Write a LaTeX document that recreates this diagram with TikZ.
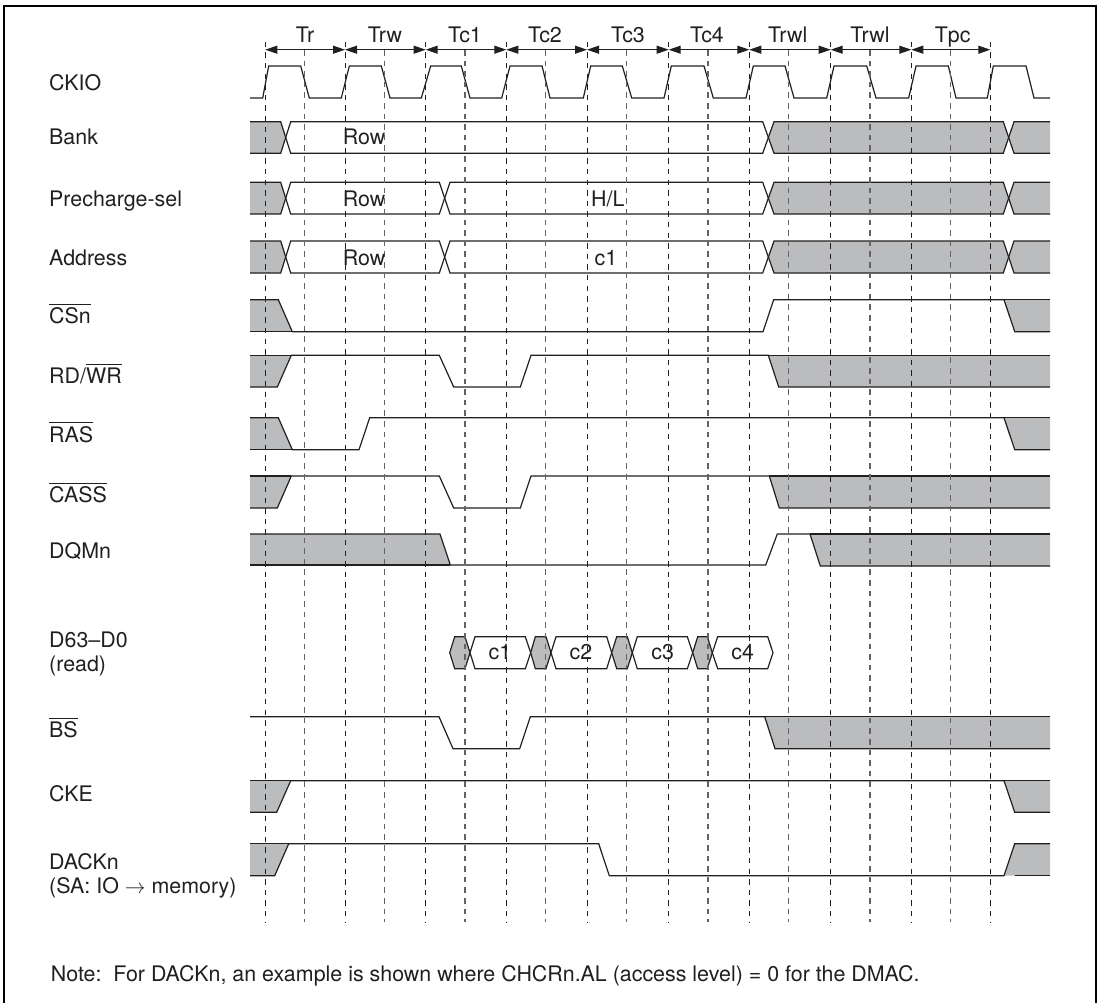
\documentclass[tikz,border=0pt]{standalone}
\usepackage{fontspec}
\setmainfont{TeX Gyre Heros}
\usetikzlibrary{arrows.meta}
\definecolor{ink}{HTML}{231F20}
\definecolor{busgray}{HTML}{BBBCBE}
\newcommand{\ob}[1]{\leavevmode\vbox{\hrule height 0.8pt \kern 3pt \hbox{#1}}}
\tikzset{
  lbl/.style={font=\fontsize{21.4}{24}\selectfont, anchor=base west, inner sep=0pt, text=ink},
  lbltwo/.style={lbl, align=left},
  mid/.style={font=\fontsize{21.4}{24}\selectfont, anchor=base, inner sep=0pt, text=ink},
  sig/.style={draw=ink, line width=1.2pt, line join=miter},
  gfill/.style={fill=busgray, draw=none},
  hexg/.style={fill=busgray, draw=ink, line width=1.2pt},
  hexw/.style={fill=white, draw=ink, line width=1.2pt},
  dashline/.style={draw=ink, line width=0.9pt, dash pattern=on 5.5pt off 5.1pt},
  dashminor/.style={draw=ink!70, line width=1.1pt, dash pattern=on 5.5pt off 5.1pt},
  span/.style={draw=ink, line width=1pt, {Triangle[length=12pt,width=8pt]}-{Triangle[length=12pt,width=8pt]}},
  frameline/.style={draw=black, line width=2pt}
}
\newcommand{\busleft}[3]{\path[gfill] (250,#1)--(280.7,#1)--(285.7,#2)--(280.7,#3)--(250,#3)--cycle;}
\newcommand{\busmid}[3]{\path[gfill] (768.3,#2)--(774,#1)--(1003.3,#1)--(1008.7,#2)--(1003.3,#3)--(774,#3)--cycle;}
\newcommand{\busright}[3]{\path[gfill] (1008.7,#2)--(1014,#1)--(1050,#1)--(1050,#3)--(1014,#3)--cycle;}
\begin{document}
\begin{tikzpicture}[x=1pt,y=-1pt]
\useasboundingbox (0,0) rectangle (1099,1002);
\fill[white] (0,0) rectangle (1099,1002);
\draw[frameline] (4.2,1003) -- (4.2,5.8) -- (1096,5.8) -- (1096,1003);

% gray fills
\busleft{121.7}{137.5}{153.3}\busmid{121.7}{137.5}{153.3}\busright{121.7}{137.5}{153.3}
\busleft{182.3}{198.2}{214}\busmid{182.3}{198.2}{214}\busright{182.3}{198.2}{214}
\busleft{241}{257}{273}\busmid{241}{257}{273}\busright{241}{257}{273}
% CSn
\path[gfill] (250,299.7)--(278.3,299.7)--(292.3,331.7)--(250,331.7)--cycle;
\path[gfill] (1004,299.7)--(1050,299.7)--(1050,331.7)--(1014.7,331.7)--cycle;
% RD/WR
\path[gfill] (250,355.3)--(291.3,355.3)--(277.3,387)--(250,387)--cycle;
\path[gfill] (768.3,355.3)--(1050,355.3)--(1050,387)--(778.7,387)--cycle;
% RAS
\path[gfill] (250,417.7)--(278.3,417.7)--(292.3,449.7)--(250,449.7)--cycle;
\path[gfill] (1004,417.7)--(1050,417.7)--(1050,449.7)--(1014.7,449.7)--cycle;
% CASS
\path[gfill] (250,476)--(291.3,476)--(277.3,508)--(250,508)--cycle;
\path[gfill] (769.3,476)--(1050,476)--(1050,508)--(779.3,508)--cycle;
% DQMn
\path[gfill] (250,534)--(440,534)--(450.3,565)--(250,565)--cycle;
\path[gfill] (810,534)--(1050,534)--(1050,566)--(820.3,566)--cycle;
% BS
\path[gfill] (764.7,716.7)--(1050,716.7)--(1050,748.7)--(775,748.7)--cycle;
% CKE
\path[gfill] (250,780.7)--(290.7,780.7)--(276.7,812.3)--(250,812.3)--cycle;
\path[gfill] (1004,780.7)--(1050,780.7)--(1050,812.3)--(1014.7,812.3)--cycle;
% DACKn
\path[gfill] (250,843.7)--(288.7,843.7)--(274.7,875.7)--(250,875.7)--cycle;
\path[gfill] (1014.7,843.7)--(1050,843.7)--(1050,875.7)--(1004,875.7)--cycle;

% CKIO
\draw[sig] (250,98)--(262.7,98)--(268.7,66)--(300.7,66)--(309.3,98)--(341.3,98)--(349.3,66)--(381.3,66)--(390,98)--(421.3,98)--(430.7,66)--(461.3,66)--(470,98)--(501.7,98)--(510,66)--(542,66)--(550,98)--(583.3,98)--(590.7,66)--(622.3,66)--(631.7,98)--(664,98)--(671.3,66)--(704,66)--(713.3,98)--(746,98)--(753.3,66)--(785,66)--(794,98)--(826.7,98)--(834,66)--(866.7,66)--(876,98)--(908.7,98)--(916,66)--(948.3,66)--(956,98)--(987.3,98)--(993.3,66)--(1026,66)--(1034,98)--(1050,98);
% Bank
\draw[sig] (250,121.7)--(280.7,121.7)--(290.7,153.3)--(762.7,153.3)--(774,121.7)--(1003.3,121.7)--(1014,153.3)--(1050,153.3);
\draw[sig] (250,153.3)--(280.7,153.3)--(290.7,121.7)--(762.7,121.7)--(774,153.3)--(1003.3,153.3)--(1014,121.7)--(1050,121.7);
% Precharge-sel
\draw[sig] (250,182.3)--(280.7,182.3)--(290.7,214)--(439.3,214)--(450,182.3)--(762.7,182.3)--(774,214)--(1003.3,214)--(1014,182.3)--(1050,182.3);
\draw[sig] (250,214)--(280.7,214)--(290.7,182.3)--(439.3,182.3)--(450,214)--(762.7,214)--(774,182.3)--(1003.3,182.3)--(1014,214)--(1050,214);
% Address
\draw[sig] (250,241)--(280.7,241)--(290.7,273)--(439.3,273)--(450,241)--(762.7,241)--(774,273)--(1003.3,273)--(1014,241)--(1050,241);
\draw[sig] (250,273)--(280.7,273)--(290.7,241)--(439.3,241)--(450,273)--(762.7,273)--(774,241)--(1003.3,241)--(1014,273)--(1050,273);
% CSn
\draw[sig] (250,299.7)--(278.3,299.7)--(292.3,331.7)--(763,331.7)--(773.7,299.7)--(1004,299.7)--(1014.7,331.7)--(1050,331.7);
\draw[sig] (250,331.7)--(292.3,331.7);
\draw[sig] (1004,299.7)--(1050,299.7);
% RD/WR
\draw[sig] (250,387)--(277.3,387)--(291.3,355.3)--(439.3,355.3)--(453.7,387)--(520.3,387)--(531,355.3)--(768.3,355.3)--(778.7,387)--(1050,387);
\draw[sig] (250,355.3)--(291.3,355.3);
\draw[sig] (768.3,355.3)--(1050,355.3);
% RAS
\draw[sig] (250,417.7)--(278.3,417.7)--(292.3,449.7)--(359,449.7)--(369.7,417.7)--(1004,417.7)--(1014.7,449.7)--(1050,449.7);
\draw[sig] (250,449.7)--(292.3,449.7);
\draw[sig] (1004,417.7)--(1050,417.7);
% CASS
\draw[sig] (250,508)--(277.3,508)--(291.3,476)--(439.3,476)--(453.7,508)--(520.3,508)--(531,476)--(769.3,476)--(779.3,508)--(1050,508);
\draw[sig] (250,476)--(291.3,476);
\draw[sig] (769.3,476)--(1050,476);
% DQMn
\draw[sig] (250,534)--(440,534)--(450.3,565)--(765.7,565)--(777.3,534)--(810,534)--(820.3,566)--(1050,566);
\draw[sig] (250,565)--(450.3,565);
\draw[sig] (810,534)--(1050,534);
% D63-D0
\path[hexg] (449.7,652.7)--(454.7,636.7)--(465,636.7)--(470,652.7)--(465,668.7)--(454.7,668.7)--cycle;
\path[hexw] (470,652.7)--(475,636.7)--(525.3,636.7)--(530.7,652.7)--(525.3,668.7)--(475,668.7)--cycle;
\path[hexg] (530.7,652.7)--(535.3,636.7)--(546,636.7)--(551,652.7)--(546,668.7)--(535.3,668.7)--cycle;
\path[hexw] (551,652.7)--(556,636.7)--(606.7,636.7)--(611.7,652.7)--(606.7,668.7)--(556,668.7)--cycle;
\path[hexg] (611.7,652.7)--(616.7,636.7)--(627.3,636.7)--(632.3,652.7)--(627.3,668.7)--(616.7,668.7)--cycle;
\path[hexw] (632.3,652.7)--(637.3,636.7)--(687.3,636.7)--(692.7,652.7)--(687.3,668.7)--(637.3,668.7)--cycle;
\path[hexg] (692.7,652.7)--(697.7,636.7)--(707.3,636.7)--(712.3,652.7)--(707.3,668.7)--(697.7,668.7)--cycle;
\path[hexw] (712.3,652.7)--(717.7,636.7)--(767.7,636.7)--(773,652.7)--(767.7,668.7)--(717.7,668.7)--cycle;
% BS
\draw[sig] (250,716.7)--(439,716.7)--(453,748.7)--(519.7,748.7)--(530.3,716.7)--(764.7,716.7)--(775,748.7)--(1050,748.7);
\draw[sig] (764.7,716.7)--(1050,716.7);
% CKE
\draw[sig] (250,812.3)--(276.7,812.3)--(290.7,780.7)--(1004,780.7)--(1014.7,812.3)--(1050,812.3);
\draw[sig] (250,780.7)--(290.7,780.7);
\draw[sig] (1004,780.7)--(1050,780.7);
% DACKn
\draw[sig] (250,875.7)--(274.7,875.7)--(288.7,843.7)--(598.7,843.7)--(609.3,875.7)--(1004,875.7)--(1014.7,843.7)--(1050,843.7);
\draw[sig] (250,843.7)--(288.7,843.7);
\draw[sig] (1014.7,875.7)--(1050,875.7);

% timing grid
\foreach \n/\x in {0/265.3,1/345,2/425.7,3/506.3,4/587,5/668.7,6/749.3,7/830.7,8/911.3,9/990.3}{
  \coordinate (t\n) at (\x,49.7);
  \coordinate (top\n) at (\x,41.7);
  \coordinate (bot\n) at (\x,921.7);
  \draw[dashline] (top\n) -- (bot\n);
}
\foreach \n/\x in {0/304.7,1/384.3,2/465,3/545.7,4/626.3,5/708,6/788.3,7/870,8/950.7}{
  \coordinate (mt\n) at (\x,50);
  \coordinate (mb\n) at (\x,921.7);
  \draw[dashminor] (mt\n) -- (mb\n);
}
\foreach \a/\b in {0/1,1/2,2/3,3/4,4/5,5/6,6/7,7/8,8/9}{
  \draw[span] (t\a) -- (t\b);
}

% period names
\node[mid] (pTr) at (305,42.3) {Tr};
\node[mid] (pTrw) at (385,42.3) {Trw};
\node[mid] (pTcA) at (465,42.3) {Tc1};
\node[mid] (pTcB) at (545,42.3) {Tc2};
\node[mid] (pTcC) at (628,42.3) {Tc3};
\node[mid] (pTcD) at (707,42.3) {Tc4};
\node[mid] (pTrwlA) at (787.7,42.3) {Trwl};
\node[mid] (pTrwlB) at (870,42.3) {Trwl};
\node[mid] (pTpc) at (952.7,42.3) {Tpc};

% signal names
\node[lbl] (lCKIO) at (49,90.7) {CKIO};
\node[lbl] (lBank) at (49,144.7) {Bank};
\node[lbl] (lPre) at (49,206) {Precharge-sel};
\node[lbl] (lAddr) at (49,265.7) {Address};
\node[lbl] (lCS) at (49,323.7) {\ob{CSn}};
\node[lbl] (lRD) at (49,383) {RD/\ob{WR}};
\node[lbl] (lRAS) at (49,442) {\ob{RAS}};
\node[lbl] (lCASS) at (49,502.7) {\ob{CASS}};
\node[lbl] (lDQM) at (49,558) {DQMn};
\node[lbltwo] (lD) at (49,671.3) {D63–D0\\(read)};
\node[lbl] (lBS) at (49,737.7) {\ob{BS}};
\node[lbl] (lCKE) at (49,801.3) {CKE};
\node[lbltwo] (lDACK) at (49,893.7) {DACKn\\(SA: IO $\rightarrow$ memory)};

% values
\node[lbl] (vRowA) at (342.7,144.7) {Row};
\node[lbl] (vRowB) at (342.7,206) {Row};
\node[lbl] (vRowC) at (342.7,265) {Row};
\node[lbl] (vHL) at (591,206) {H/L};
\node[mid] (vCA) at (606,265) {c1};
\node[mid] (dA) at (500,659.7) {c1};
\node[mid] (dB) at (581,659.7) {c2};
\node[mid] (dC) at (662.7,659.7) {c3};
\node[mid] (dD) at (742.7,659.7) {c4};

% note
\node[lbl] (note) at (50.7,981) {Note:\ \ For DACKn, an example is shown where CHCRn.AL (access level) = 0 for the DMAC.};
\end{tikzpicture}
\end{document}
